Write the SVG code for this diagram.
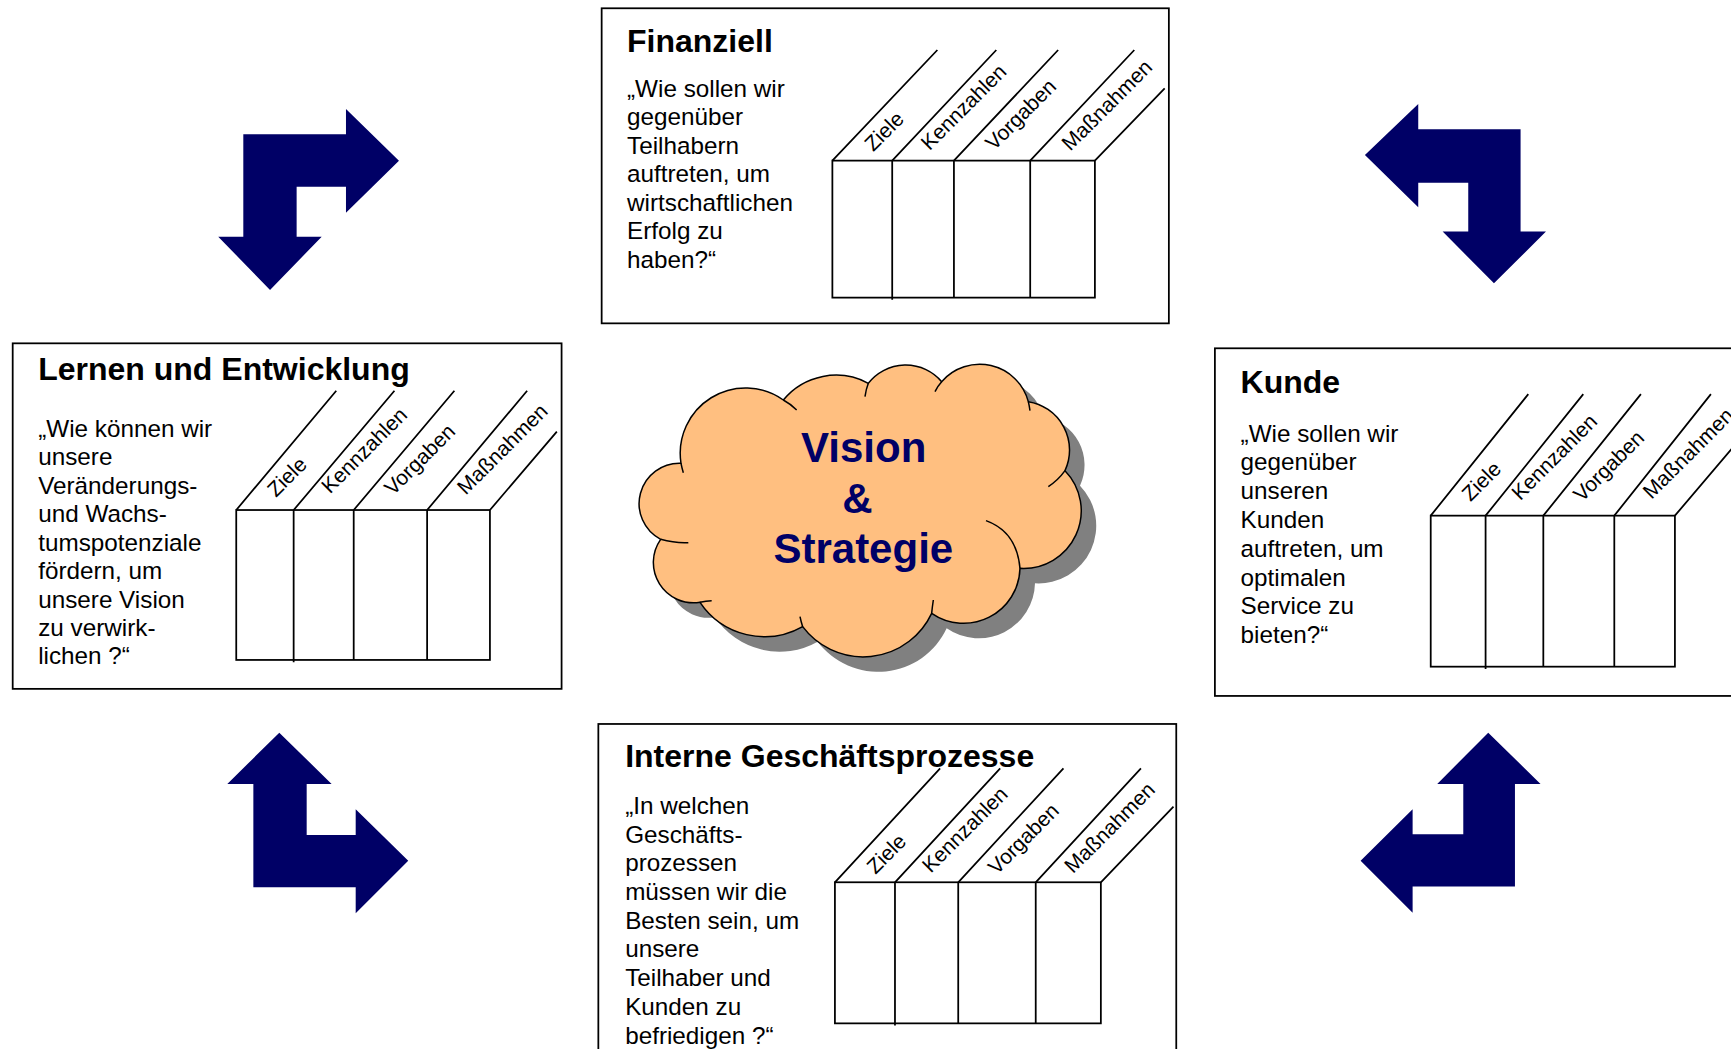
<svg xmlns="http://www.w3.org/2000/svg" xmlns:xlink="http://www.w3.org/1999/xlink" width="1731" height="1049" viewBox="0 0 1731 1049">
<defs>
<style>
.box{fill:#fff;stroke:#000;stroke-width:1.6}
.tbl{fill:none;stroke:#000;stroke-width:1.6}
.t{font-family:"Liberation Sans",Arial,Helvetica,sans-serif;fill:#000}
.title{font-weight:bold;font-size:29px}
.body{font-size:22px}
.lbl{font-size:19px}
.arrow{fill:#000066}
.cloudtxt{font-family:"Liberation Sans",Arial,Helvetica,sans-serif;font-weight:bold;font-size:42px;fill:#000066;text-anchor:middle}
</style>
<path id="cloudShape" d="M122,568 A121,121 0 0 1 183,340 A196,196 0 0 1 490,150 A205,205 0 0 1 745,100 A142,142 0 0 1 965,95 A151,151 0 0 1 1225,155 A147,147 0 0 1 1335,362 A173,173 0 0 1 1200,655 A169,169 0 0 1 935,790 A227,227 0 0 1 548,830 A233,233 0 0 1 240,757 A121,121 0 0 1 122,568 Z"/>
</defs>
<rect width="1731" height="1049" fill="#fff"/>

<g id="cloud-vision-strategie">
<g transform="translate(620 350) scale(0.33333)">
<use xlink:href="#cloudShape" transform="translate(45 45)" fill="#808080"/>
<use xlink:href="#cloudShape" fill="#FFBF80" stroke="#000" stroke-width="4.5"/>
<path d="M122,568 Q165,580 205,578 M183,340 Q186,355 190,368 M490,150 Q512,162 530,180 M745,100 Q738,118 735,140 M965,95 Q953,108 945,125 M1225,155 Q1228,168 1230,182 M1335,362 Q1315,390 1285,410 M1098,512 Q1190,545 1200,655 M935,790 Q937,770 940,750 M548,830 Q543,815 540,800 M240,757 Q258,752 275,752" fill="none" stroke="#000" stroke-width="4.5"/>
</g>
<text class="cloudtxt" x="863.7" y="461.7">Vision</text>
<text class="cloudtxt" x="857.3" y="512.7">&amp;</text>
<text class="cloudtxt" x="863.3" y="563.3">Strategie</text>
</g>

<g transform="scale(1.10395)">

<g id="arrows">
<path class="arrow" d="M220.4,121.6 H313.4 V98.7 L361.4,145.6 L313.4,192.7 V169.1 H268.7 V214.4 H291.4 L244.6,262.7 L197.7,214.4 H220.4 Z"/>
<path class="arrow" d="M1377.4,117.1 H1284.7 V94.2 L1236.4,140.4 L1284.7,187.8 V165.5 H1330 V209.8 H1306.8 L1353.3,256.6 L1400.4,209.8 H1377.4 Z"/>
<path class="arrow" d="M253,663.7 L300.4,710.1 H277.8 V756.3 H322.2 V733.1 L369.8,779.6 L322.2,827.3 V803.7 H229.5 V710.1 H205.9 Z"/>
<path class="arrow" d="M1348.1,663.7 L1395.5,710.1 H1372.3 V803.1 H1279.6 V826.7 L1232.5,779.6 L1279.6,733.1 V755.7 H1325.5 V710.1 H1301.9 Z"/>
</g>

<g id="finanziell">
<rect class="box" x="545" y="7.5" width="513.8" height="285.4"/>
<text class="t title" x="568" y="46.8">Finanziell</text>
<text class="t body">
<tspan x="568" y="87.6">„Wie sollen wir</tspan>
<tspan x="568" y="113.4">gegenüber</tspan>
<tspan x="568" y="139.2">Teilhabern</tspan>
<tspan x="568" y="165">auftreten, um</tspan>
<tspan x="568" y="190.8">wirtschaftlichen</tspan>
<tspan x="568" y="216.6">Erfolg zu</tspan>
<tspan x="568" y="242.4">haben?“</tspan>
</text>
<rect class="tbl" x="754" y="145.5" width="237.8" height="124.1"/>
<path class="tbl" d="M808.2,145.5 V271.5 M864.1,145.5 V269.6 M933.2,145.5 V269.6 M754,145.5 L849.1,45.3 M808.2,145.5 L902.5,45.3 M864.1,145.5 L958.5,45.3 M933.2,145.5 L1027.5,45.3 M991.8,145.5 L1055,80"/>
<text class="t lbl" transform="translate(791 138) rotate(-45)">Ziele</text>
<text class="t lbl" transform="translate(842 137) rotate(-45)">Kennzahlen</text>
<text class="t lbl" transform="translate(900.5 137) rotate(-45)">Vorgaben</text>
<text class="t lbl" transform="translate(969.5 137.5) rotate(-45)">Maßnahmen</text>
</g>

<g id="lernen-entwicklung">
<rect class="box" x="11.5" y="311" width="497.2" height="313"/>
<text class="t title" x="34.6" y="344">Lernen und Entwicklung</text>
<text class="t body">
<tspan x="34.6" y="395.5">„Wie können wir</tspan>
<tspan x="34.6" y="421.3">unsere</tspan>
<tspan x="34.6" y="447.1">Veränderungs-</tspan>
<tspan x="34.6" y="472.9">und Wachs-</tspan>
<tspan x="34.6" y="498.7">tumspotenziale</tspan>
<tspan x="34.6" y="524.5">fördern, um</tspan>
<tspan x="34.6" y="550.3">unsere Vision</tspan>
<tspan x="34.6" y="576.1">zu verwirk-</tspan>
<tspan x="34.6" y="601.9">lichen ?“</tspan>
</text>
<rect class="tbl" x="214" y="462" width="229.8" height="135.8"/>
<path class="tbl" d="M266,462 V600 M320.4,462 V597.8 M386.9,462 V597.8 M214,462 L304.6,354 M266,462 L357.3,354 M320.4,462 L411.6,354 M386.9,462 L477.5,354 M443.8,462 L504.4,391"/>
<text class="t lbl" transform="translate(250 451) rotate(-45)">Ziele</text>
<text class="t lbl" transform="translate(299 448) rotate(-45)">Kennzahlen</text>
<text class="t lbl" transform="translate(356 449.5) rotate(-45)">Vorgaben</text>
<text class="t lbl" transform="translate(422 449) rotate(-45)">Maßnahmen</text>
</g>

<g id="kunde">
<rect class="box" x="1100.5" y="315.5" width="500" height="314.9"/>
<text class="t title" x="1123.8" y="356.3">Kunde</text>
<text class="t body">
<tspan x="1123.8" y="400">„Wie sollen wir</tspan>
<tspan x="1123.8" y="426.1">gegenüber</tspan>
<tspan x="1123.8" y="452.2">unseren</tspan>
<tspan x="1123.8" y="478.3">Kunden</tspan>
<tspan x="1123.8" y="504.4">auftreten, um</tspan>
<tspan x="1123.8" y="530.5">optimalen</tspan>
<tspan x="1123.8" y="556.6">Service zu</tspan>
<tspan x="1123.8" y="582.7">bieten?“</tspan>
</text>
<rect class="tbl" x="1296" y="467.1" width="221.2" height="136.8"/>
<path class="tbl" d="M1345.7,467.1 V606 M1398,467.1 V603.9 M1462.3,467.1 V603.9 M1296,467.1 L1384.4,357 M1345.7,467.1 L1434.2,357 M1398,467.1 L1486.4,357 M1462.3,467.1 L1549.8,357 M1517.2,467.1 L1570,405"/>
<text class="t lbl" transform="translate(1332 455) rotate(-45)">Ziele</text>
<text class="t lbl" transform="translate(1377 454) rotate(-45)">Kennzahlen</text>
<text class="t lbl" transform="translate(1433 455.5) rotate(-45)">Vorgaben</text>
<text class="t lbl" transform="translate(1496 453) rotate(-45)">Maßnahmen</text>
</g>

<g id="interne-geschaeftsprozesse">
<rect class="box" x="542" y="655.8" width="523.5" height="400"/>
<text class="t title" x="566.3" y="694.5">Interne Geschäftsprozesse</text>
<text class="t body">
<tspan x="566.3" y="737.3">„In welchen</tspan>
<tspan x="566.3" y="763.3">Geschäfts-</tspan>
<tspan x="566.3" y="789.3">prozessen</tspan>
<tspan x="566.3" y="815.3">müssen wir die</tspan>
<tspan x="566.3" y="841.3">Besten sein, um</tspan>
<tspan x="566.3" y="867.3">unsere</tspan>
<tspan x="566.3" y="893.3">Teilhaber und</tspan>
<tspan x="566.3" y="919.3">Kunden zu</tspan>
<tspan x="566.3" y="945.3">befriedigen ?“</tspan>
</text>
<rect class="tbl" x="756.3" y="799.2" width="240.9" height="127.8"/>
<path class="tbl" d="M810.7,799.2 V929 M868,799.2 V927 M938.2,799.2 V927 M756.3,799.2 L851.6,696 M810.7,799.2 L906,696 M868,799.2 L963.3,696 M938.2,799.2 L1033.5,696 M997.2,799.2 L1063,730.7"/>
<text class="t lbl" transform="translate(793 792.5) rotate(-45)">Ziele</text>
<text class="t lbl" transform="translate(843 791.5) rotate(-45)">Kennzahlen</text>
<text class="t lbl" transform="translate(903 793) rotate(-45)">Vorgaben</text>
<text class="t lbl" transform="translate(972 792) rotate(-45)">Maßnahmen</text>
</g>

</g>
</svg>
